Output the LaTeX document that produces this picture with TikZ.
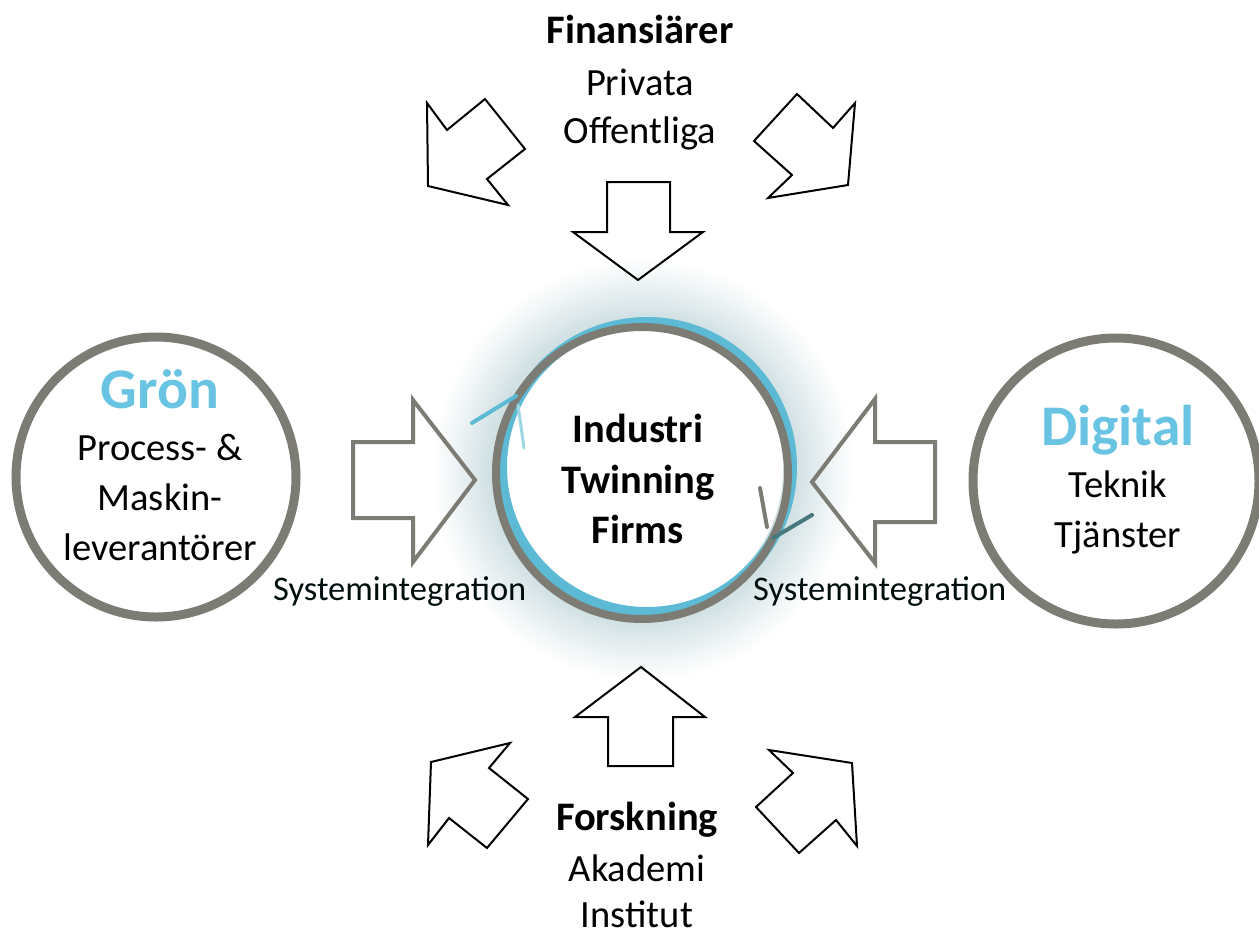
\documentclass[tikz,border=0pt]{standalone}
\usepackage{fontspec}
\setmainfont{Carlito}
\usetikzlibrary{calc}
\definecolor{ringgray}{RGB}{124,124,116}
\definecolor{ringblue}{RGB}{92,186,212}
\definecolor{ringteal}{RGB}{70,120,125}
\definecolor{textblue}{RGB}{104,196,226}
\definecolor{glowc}{RGB}{208,224,227}

\begin{document}
\begin{tikzpicture}[x=1pt, y=-1pt,
    blockarrow/.style={draw=black, line width=2pt, line join=miter},
    sidearrow/.style={draw=ringgray, line width=4pt, line join=miter},
    ring/.style={line width=9pt},
    txt/.style={anchor=base, inner sep=0pt, font=\fontsize{38.5}{46}\selectfont},
    boldtxt/.style={anchor=base, inner sep=0pt, font=\fontsize{40.5}{48}\selectfont\bfseries},
    title/.style={anchor=base, inner sep=0pt, text=textblue, font=\fontsize{57.5}{68}\selectfont\bfseries},
    sysint/.style={anchor=base west, inner sep=0pt, text=black!90!teal, font=\fontsize{34.5}{40}\selectfont}]
    \useasboundingbox (0,0) rectangle (1259,935);
    \foreach \i in {0,...,30} {
        \pgfmathsetmacro\rr{212-2*\i}
        \pgfmathsetmacro\pp{(\i/30)^1.1*100}
        \fill[glowc!\pp!white] (643,470) circle (\rr);
    }
    \fill[white] (643,470) circle (140);
    \draw[ringblue, line width=10pt] (647,467) circle (145);
    \draw[ringgray, line width=8pt] (642,473) circle (146);
    \draw[ringblue, line width=4pt, line cap=round] (472,423) -- (516,396);
    \draw[ringblue!60!white, line width=3pt, line cap=round] (518,405) -- (524,448);
    \draw[ringgray, line width=4pt, line cap=round] (760,488) -- (767,527);
    \draw[ringteal, line width=4pt, line cap=round] (812,515) -- (773,538);
    \draw[ring, ringgray] (156,477) circle (140);
    \draw[ring, ringgray] (1116,481) circle (143);
    \draw[blockarrow] (427,103) -- (447,130) -- (485,99) -- (525,149) -- (487,179) -- (508,205) -- (428,186) -- cycle;
    \draw[blockarrow] (797,94) -- (833,128) -- (855,103) -- (848,185) -- (768,198) -- (792,175) -- (754,141) -- cycle;
    \draw[blockarrow] (607,182) -- (670,182) -- (670,232) -- (703,232) -- (638,280) -- (573,232) -- (607,232) -- cycle;
    \draw[blockarrow] (641,667) -- (705,717) -- (673,717) -- (673,766) -- (608,766) -- (608,717) -- (575,717) -- cycle;
    \draw[blockarrow] (510,743) -- (489,768) -- (528,799) -- (487,848) -- (449,818) -- (428,845) -- (431,762) -- cycle;
    \draw[blockarrow] (769,750) -- (852,763) -- (857,846) -- (836,820) -- (799,853) -- (756,807) -- (793,773) -- cycle;
    \draw[sidearrow] (353,442) -- (413,442) -- (413,400) -- (475,480) -- (413,562) -- (413,518) -- (353,518) -- cycle;
    \draw[sidearrow] (935,442) -- (875,442) -- (875,399) -- (812,482) -- (875,563) -- (875,522) -- (935,522) -- cycle;
    \node[boldtxt] (industri) at (638,442) {Industri};
    \node[boldtxt] (twinning) at (638,493) {Twinning};
    \node[boldtxt] (firms) at (638,543) {Firms};
    \node[title] (gron) at (160,408) {Grön};
    \node[txt] (process) at (160,460) {Process- \&};
    \node[txt] (maskin) at (160,510) {Maskin-};
    \node[txt] (lev) at (160,560) {leverantörer};
    \node[title] (digital) at (1118,445) {Digital};
    \node[txt] (teknik) at (1118,497) {Teknik};
    \node[txt] (tjanster) at (1118,547) {Tjänster};
    \node[boldtxt] (fin) at (640,43) {Finansiärer};
    \node[txt] (privata) at (640,95) {Privata};
    \node[txt] (offentliga) at (640,143) {Offentliga};
    \node[boldtxt] (forskning) at (637,830) {Forskning};
    \node[txt] (akademi) at (637,881) {Akademi};
    \node[txt] (institut) at (637,927) {Institut};
    \node[sysint] (sysleft) at (273,600) {Systemintegration};
    \node[sysint] (sysright) at (753,600) {Systemintegration};
\end{tikzpicture}
\end{document}
